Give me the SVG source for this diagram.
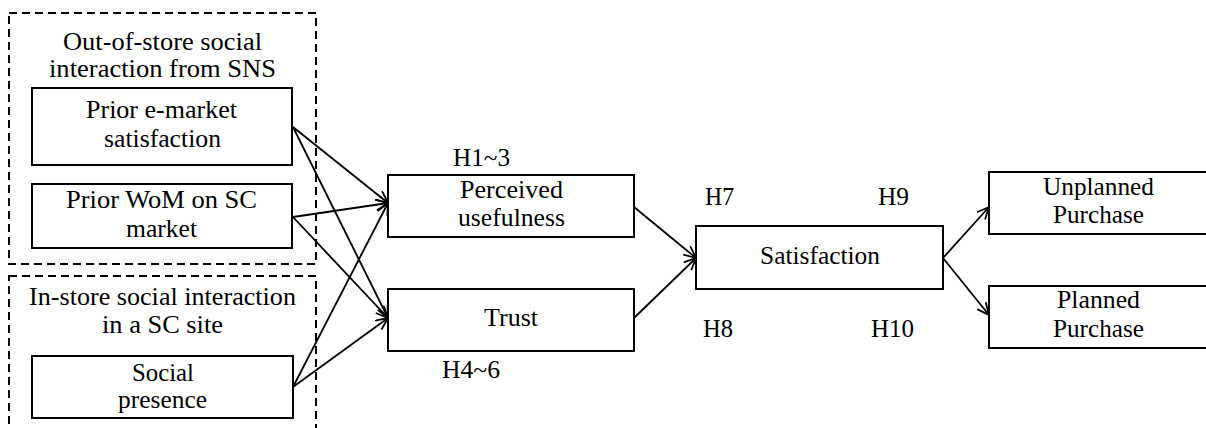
<svg xmlns="http://www.w3.org/2000/svg" width="1206" height="428" viewBox="0 0 1206 428">
<style>
text{font-size:26px;fill:#000;text-anchor:middle}
.box{fill:#fff;stroke:#000;stroke-width:2}
.grp{fill:none;stroke:#000;stroke-width:2;stroke-dasharray:8 5}
.lbl{text-anchor:start}
#connectors line{stroke:#000;stroke-width:1.8;marker-end:url(#arr)}
</style>
<defs>
<marker id="arr" markerUnits="userSpaceOnUse" markerWidth="16" markerHeight="14" refX="13" refY="6" orient="auto">
<path d="M1,0.5 L13,6 L1,11.5" fill="none" stroke="#000" stroke-width="1.8"/>
</marker>
</defs>
<rect width="1206" height="428" fill="#fff"/>

<g font-family="Liberation Serif, serif">
<g id="group-out-of-store">
<rect class="grp" x="9" y="13" width="307" height="251"/>
<text x="162.5" y="50" textLength="199" lengthAdjust="spacingAndGlyphs">Out-of-store social</text>
<text x="162.5" y="77" textLength="227" lengthAdjust="spacingAndGlyphs">interaction from SNS</text>
</g>
<g id="group-in-store">
<rect class="grp" x="9" y="276" width="307" height="170"/>
<text x="162.5" y="305" textLength="267" lengthAdjust="spacingAndGlyphs">In-store social interaction</text>
<text x="162.5" y="333" textLength="121" lengthAdjust="spacingAndGlyphs">in a SC site</text>
</g>

<g id="connectors">
<line x1="293" y1="127" x2="388" y2="203"/>
<line x1="293" y1="127" x2="388" y2="318"/>
<line x1="293" y1="217" x2="388" y2="203"/>
<line x1="293" y1="217" x2="388" y2="318"/>
<line x1="293" y1="387" x2="388" y2="203"/>
<line x1="293" y1="387" x2="388" y2="318"/>
<line x1="634" y1="207" x2="696" y2="258"/>
<line x1="634" y1="318" x2="696" y2="258"/>
<line x1="943" y1="258" x2="989" y2="207"/>
<line x1="943" y1="258" x2="989" y2="315"/>
</g>

<g id="node-prior-emarket">
<rect class="box" x="32" y="88" width="260" height="77"/>
<text x="161.5" y="118" textLength="151" lengthAdjust="spacingAndGlyphs">Prior e-market</text>
<text x="162.5" y="147" textLength="117" lengthAdjust="spacingAndGlyphs">satisfaction</text>
</g>
<g id="node-prior-wom">
<rect class="box" x="32" y="184" width="260" height="64"/>
<text x="161.5" y="208" textLength="191" lengthAdjust="spacingAndGlyphs">Prior WoM on SC</text>
<text x="161.5" y="237" textLength="71" lengthAdjust="spacingAndGlyphs">market</text>
</g>
<g id="node-social-presence">
<rect class="box" x="32" y="356" width="261" height="62"/>
<text x="163" y="381" textLength="62" lengthAdjust="spacingAndGlyphs">Social</text>
<text x="162.5" y="408" textLength="89" lengthAdjust="spacingAndGlyphs">presence</text>
</g>
<g id="node-perceived-usefulness">
<rect class="box" x="388" y="175" width="246" height="62"/>
<text x="511.5" y="198" textLength="103" lengthAdjust="spacingAndGlyphs">Perceived</text>
<text x="511.5" y="226" textLength="107" lengthAdjust="spacingAndGlyphs">usefulness</text>
</g>
<g id="node-trust">
<rect class="box" x="388" y="289" width="246" height="62"/>
<text x="511" y="326" textLength="54" lengthAdjust="spacingAndGlyphs">Trust</text>
</g>
<g id="node-satisfaction">
<rect class="box" x="696" y="226" width="247" height="63"/>
<text x="820" y="264" textLength="120" lengthAdjust="spacingAndGlyphs">Satisfaction</text>
</g>
<g id="node-unplanned">
<rect class="box" x="989" y="172" width="225" height="62"/>
<text x="1098.5" y="195" textLength="111" lengthAdjust="spacingAndGlyphs">Unplanned</text>
<text x="1098.5" y="223" textLength="91" lengthAdjust="spacingAndGlyphs">Purchase</text>
</g>
<g id="node-planned">
<rect class="box" x="989" y="286" width="225" height="62"/>
<text x="1098.5" y="308" textLength="83" lengthAdjust="spacingAndGlyphs">Planned</text>
<text x="1098.5" y="337" textLength="91" lengthAdjust="spacingAndGlyphs">Purchase</text>
</g>

<g id="hypothesis-labels">
<text class="lbl" x="453" y="166" textLength="57" lengthAdjust="spacingAndGlyphs">H1~3</text>
<text class="lbl" x="442" y="378" textLength="58" lengthAdjust="spacingAndGlyphs">H4~6</text>
<text class="lbl" x="705" y="205" textLength="29" lengthAdjust="spacingAndGlyphs">H7</text>
<text class="lbl" x="703" y="337" textLength="30" lengthAdjust="spacingAndGlyphs">H8</text>
<text class="lbl" x="878" y="205" textLength="31" lengthAdjust="spacingAndGlyphs">H9</text>
<text class="lbl" x="871" y="337" textLength="43" lengthAdjust="spacingAndGlyphs">H10</text>
</g>
</g>
</svg>
